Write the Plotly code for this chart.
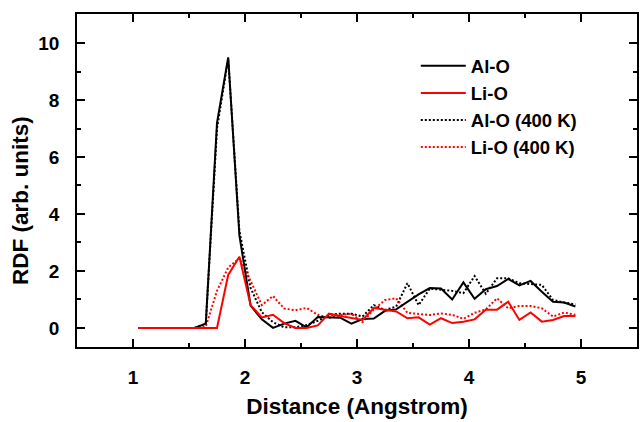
import plotly.graph_objects as go

distance = [1.05, 1.15, 1.25, 1.35, 1.45, 1.55, 1.65, 1.75, 1.85, 1.95,
            2.05, 2.15, 2.25, 2.35, 2.45, 2.55, 2.65, 2.75, 2.85, 2.95,
            3.05, 3.15, 3.25, 3.35, 3.45, 3.55, 3.65, 3.75, 3.85, 3.95,
            4.05, 4.15, 4.25, 4.35, 4.45, 4.55, 4.65, 4.75, 4.85, 4.95]

al_o = [0, 0, 0, 0, 0, 0, 0.15, 7.2, 9.5, 3.25,
        0.78, 0.3, 0.0, 0.15, 0.25, 0.02, 0.38, 0.38, 0.36, 0.15,
        0.31, 0.33, 0.6, 0.65, 0.92, 1.18, 1.4, 1.38, 1.0, 1.6,
        1.02, 1.36, 1.47, 1.72, 1.49, 1.65, 1.27, 0.92, 0.89, 0.75]

li_o = [0, 0, 0, 0, 0, 0, 0, 0, 1.86, 2.5,
        0.8, 0.37, 0.46, 0.17, 0.0, 0.0, 0.09, 0.5, 0.42, 0.34,
        0.28, 0.7, 0.63, 0.58, 0.34, 0.37, 0.12, 0.34, 0.17, 0.22,
        0.3, 0.64, 0.64, 0.92, 0.28, 0.54, 0.22, 0.28, 0.42, 0.42]

al_o_400 = [0, 0, 0, 0, 0, 0, 0.15, 7.0, 9.45, 3.4,
            1.4, 0.55, 0.2, 0.02, 0.02, 0.1, 0.25, 0.45, 0.5, 0.5,
            0.4, 0.8, 0.63, 0.75, 1.57, 0.8, 1.38, 1.35, 1.3, 1.22,
            1.82, 1.2, 1.74, 1.74, 1.57, 1.54, 1.51, 0.98, 0.89, 0.83]

li_o_400 = [0, 0, 0, 0, 0, 0, 0.05, 1.3, 2.12, 2.45,
            1.65, 0.8, 1.12, 0.68, 0.62, 0.7, 0.46, 0.35, 0.45, 0.5,
            0.2, 0.65, 0.98, 1.04, 0.53, 0.49, 0.45, 0.51, 0.46, 0.32,
            0.53, 0.65, 1.04, 0.69, 0.77, 0.77, 0.69, 0.4, 0.54, 0.46]

x_ticks = [1, 2, 3, 4, 5]
y_ticks = [0, 2, 4, 6, 8, 10]

FONT = "Liberation Sans, Arial, sans-serif"

fig = go.Figure()
fig.add_trace(go.Scatter(x=distance, y=al_o_400, mode="lines", name="Al-O (400 K)",
                         line=dict(color="black", width=2, dash="2px,2px"), legendrank=3))
fig.add_trace(go.Scatter(x=distance, y=li_o_400, mode="lines", name="Li-O (400 K)",
                         line=dict(color="#ff0000", width=2, dash="2px,2px"), legendrank=4))
fig.add_trace(go.Scatter(x=distance, y=al_o, mode="lines", name="Al-O",
                         line=dict(color="black", width=2), legendrank=1))
fig.add_trace(go.Scatter(x=distance, y=li_o, mode="lines", name="Li-O",
                         line=dict(color="#ff0000", width=2), legendrank=2))

axis_common = dict(
    showline=True, linecolor="black", linewidth=1.5, mirror="ticks",
    ticks="inside", ticklen=8, tickwidth=1.5, tickcolor="black",
    showgrid=False, zeroline=False,
    tickfont=dict(family=FONT, size=19, color="black", weight="bold"),
    minor=dict(ticks="inside", ticklen=4, tickwidth=1.5, tickcolor="black", showgrid=False),
)

fig.update_xaxes(range=[0.5, 5.5], tickvals=x_ticks, ticklabelstandoff=12,
                 minor_dtick=0.5, minor_tick0=0.5,
                 title=dict(text="Distance (Angstrom)", standoff=12,
                            font=dict(family=FONT, size=22.5, color="black", weight="bold")),
                 **axis_common)
fig.update_yaxes(range=[-0.67, 11.02], tickvals=y_ticks, ticklabelstandoff=12,
                 minor_dtick=1, minor_tick0=1,
                 **axis_common)

fig.add_annotation(text="RDF (arb. units)", textangle=-90,
                   xref="paper", yref="paper", x=-0.101, y=0.44,
                   xanchor="center", yanchor="middle", showarrow=False,
                   font=dict(family=FONT, size=22.5, color="black", weight="bold"))

fig.update_layout(
    width=640, height=422,
    margin=dict(l=77, r=1, t=14, b=75),
    paper_bgcolor="white", plot_bgcolor="white",
    showlegend=True,
    legend=dict(x=0.605, y=0.9, xanchor="left", yanchor="top",
                bgcolor="rgba(0,0,0,0)", itemwidth=45,
                font=dict(family=FONT, size=18.5, color="black", weight="bold")),
)

fig.write_html("out.html")
